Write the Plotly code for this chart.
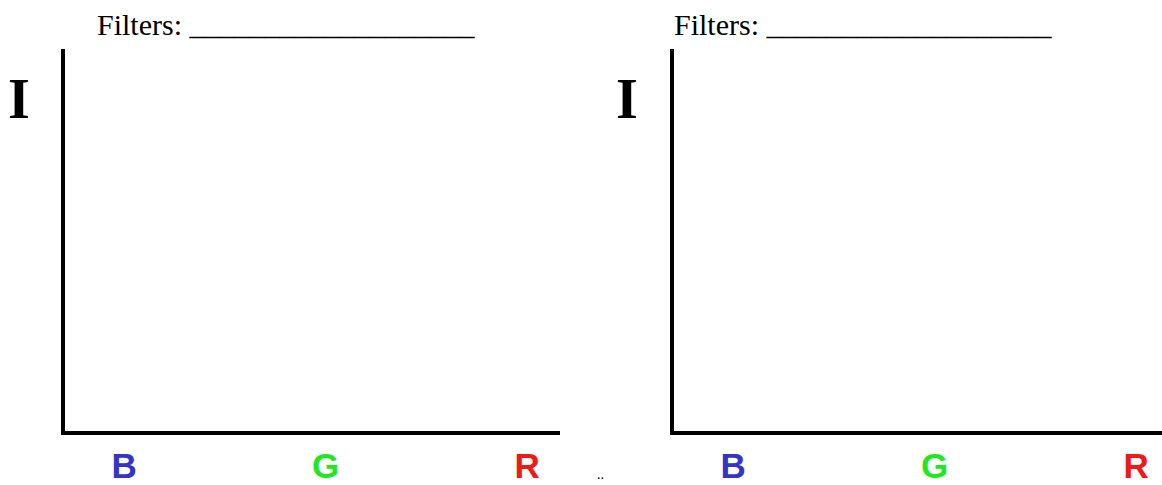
import plotly.graph_objects as go

# ---- data ----
categories = ["B", "G", "R"]
intensity_left = [None, None, None]
intensity_right = [None, None, None]
panel_titles = ["Filters: ___________________", "Filters: ___________________"]
y_label = "I"
stray_text = ".."

# ---- styles ----
label_colors = {"B": "#3434c8", "G": "#1ee81e", "R": "#ee1a1a"}
W, H = 1162, 485


def px_x(p):
    return p / W


def px_y(p):
    return (H - p) / H


ticktext = [f"<b><span style='color:{label_colors[c]}'>{c}</span></b>" for c in categories]

fig = go.Figure()
fig.add_trace(go.Scatter(x=categories, y=intensity_left, xaxis="x", yaxis="y",
                         mode="lines", showlegend=False, hoverinfo="skip"))
fig.add_trace(go.Scatter(x=categories, y=intensity_right, xaxis="x2", yaxis="y2",
                         mode="lines", showlegend=False, hoverinfo="skip"))

common_x = dict(type="category", showline=True, linecolor="black", linewidth=3.5,
                showgrid=False, zeroline=False, ticks="outside", ticklen=1,
                tickcolor="rgba(0,0,0,0)", tickvals=categories, ticktext=ticktext,
                automargin=False,
                tickfont=dict(family="Liberation Sans, Arial", size=35))
common_y = dict(range=[0, 1], showline=True, linecolor="black", linewidth=3.5,
                showgrid=False, zeroline=False, showticklabels=False, ticks="",
                automargin=False)

y_dom = [px_y(431), px_y(49)]
fig.update_layout(
    width=W, height=H,
    margin=dict(l=0, r=0, t=0, b=0, pad=0),
    paper_bgcolor="white", plot_bgcolor="white",
    xaxis=dict(domain=[px_x(65), px_x(560)], range=[-0.294, 2.163], anchor="y", **common_x),
    yaxis=dict(domain=y_dom, anchor="x", **common_y),
    xaxis2=dict(domain=[px_x(674), 1.0], range=[-0.294, 2.128], anchor="y2", **common_x),
    yaxis2=dict(domain=y_dom, anchor="x2", **common_y),
)

title_font = dict(family="Liberation Serif, Times New Roman", size=30, color="black")
for x0, t in zip([95, 672], panel_titles):
    fig.add_annotation(x=px_x(x0), y=px_y(24), xref="paper", yref="paper",
                       text=t, showarrow=False, xanchor="left", yanchor="middle",
                       font=title_font)

for x0 in [19, 627]:
    fig.add_annotation(x=px_x(x0), y=px_y(99), xref="paper", yref="paper",
                       text=f"<b>{y_label}</b>", showarrow=False,
                       xanchor="center", yanchor="middle",
                       font=dict(family="Liberation Serif, Times New Roman", size=56, color="black"))

fig.add_annotation(x=px_x(600), y=px_y(474), xref="paper", yref="paper",
                   text=stray_text, showarrow=False, xanchor="center", yanchor="middle",
                   font=dict(family="Liberation Serif", size=14, color="black"))

fig.write_html("out.html", config={"displayModeBar": False},
               post_script="document.body.style.margin='0';document.body.style.overflow='hidden';")
